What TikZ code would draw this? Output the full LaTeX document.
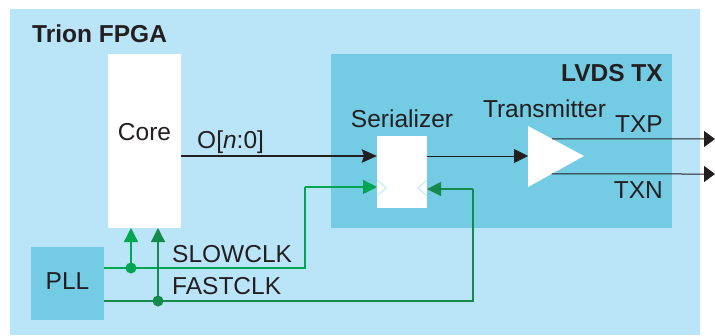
\documentclass[tikz,border=0pt]{standalone}
\usepackage{fontspec}
\setmainfont{Liberation Sans}
\usetikzlibrary{arrows.meta,positioning,calc}
\definecolor{fpgablue}{HTML}{BAE4F8}
\definecolor{lvdsblue}{HTML}{74CBE4}
\definecolor{slowgreen}{HTML}{00A651}
\definecolor{fastgreen}{HTML}{168A4A}
\definecolor{wireblk}{HTML}{231F20}

\begin{document}
\begin{tikzpicture}[x=1pt,y=-1pt,
  every node/.style={font=\fontsize{24.5}{28}\selectfont,inner sep=0pt,text=wireblk},
  blk/.style={anchor=north west,outer sep=0pt,minimum width=#1},
  lbl/.style={anchor=base},
  bus/.style={wireblk,line width=2.8pt,-{Stealth[length=15pt,width=13pt,inset=2pt]}},
  wire/.style={wireblk,line width=1pt,-{Triangle[length=14pt,width=14pt]}},
  outw/.style={wireblk,line width=1pt,-{Triangle[length=11pt,width=16pt]}},
  slow/.style={slowgreen,line width=1.3pt},
  fast/.style={fastgreen,line width=1.3pt},
  clktip/.style={-{Triangle[length=14pt,width=14pt]}}]

  \useasboundingbox (0,0) rectangle (715,335);

  % boxes
  \node[blk=690pt,minimum height=326pt,fill=fpgablue] (fpga) at (10,9) {};
  \node[blk=341pt,minimum height=174pt,fill=lvdsblue] (lvds) at (331,54) {};
  \node[blk=73pt,minimum height=174pt,fill=white] (core) at (108,54) {};
  \node[blk=50pt,minimum height=72pt,fill=white] (ser) at (377,136) {};
  \node[blk=73pt,minimum height=73pt,fill=lvdsblue] (pll) at (31,247) {};

  % transmitter buffer
  \coordinate (txtop) at (528,126);
  \coordinate (txbot) at (528,187);
  \coordinate (txtip) at (584,156);
  \fill[white] (txtop) -- (txtip) -- (txbot) -- cycle;

  % labels
  \node[anchor=base west,font=\fontsize{24.5}{28}\selectfont\bfseries] (fpgalbl) at (32,42) {Trion FPGA};
  \node[anchor=base east,font=\fontsize{24.5}{28}\selectfont\bfseries] (lvdslbl) at (663,81) {LVDS TX};
  \node[lbl] (corelbl) at (144.5,140) {Core};
  \node[anchor=base west] (buslbl) at (197,148) {O[\textit{n}:0]};
  \node[lbl] (serlbl) at (402,127) {Serializer};
  \node[lbl] (txlbl) at (544.5,117) {Transmitter};
  \node[anchor=base east] (txplbl) at (663,132) {TXP};
  \node[anchor=base east] (txnlbl) at (663,198) {TXN};
  \node[anchor=base west] (slowlbl) at (172,262) {SLOWCLK};
  \node[anchor=base west] (fastlbl) at (172,294) {FASTCLK};
  \node[lbl] (plllbl) at (67.5,289) {PLL};

  % rows and columns of the wiring
  \coordinate (rowbus) at (0,156);
  \coordinate (rowslowin) at (0,187);
  \coordinate (rowfastin) at (0,189);
  \coordinate (rowslow) at (0,268);
  \coordinate (rowfast) at (0,301);
  \coordinate (txpout) at (715,139);
  \coordinate (txnout) at (715,174);
  \coordinate (slowturn) at (305,268);
  \coordinate (fastturn) at (473,301);
  \coordinate (slowdot) at (131,268);
  \coordinate (fastdot) at (158,301);

  % data path
  \draw[bus] (core.east |- rowbus) -- (ser.west |- rowbus);
  \draw[wire] (ser.east |- rowbus) -- (txtop |- rowbus);
  \draw[outw] ($(txtop)!0.43!(txtip)$) -- (txpout);
  \draw[outw] ($(txbot)!0.42!(txtip)$) -- (txnout);

  % clock inputs of the serializer
  \foreach \s/\e in {west/1,east/-1}{
    \draw[fpgablue,line width=0.8pt] ($(ser.\s |- rowslowin)+(0,-7)$) -- ++(\e*9,8) -- ++(-\e*9,8);
  }

  % clocks
  \draw[slow] (pll.east |- rowslow) -- (slowturn) -- (slowturn |- rowslowin);
  \draw[slow,clktip] (slowturn |- rowslowin) -- (ser.west |- rowslowin);
  \draw[fast] (pll.east |- rowfast) -- (fastturn) -- (fastturn |- rowfastin);
  \draw[fast,clktip] (fastturn |- rowfastin) -- (ser.east |- rowfastin);
  \draw[slow,clktip] (slowdot) -- (slowdot |- core.south);
  \draw[fast,clktip] (fastdot) -- (fastdot |- core.south);
  \fill[slowgreen] (slowdot) circle (5.5pt);
  \fill[fastgreen] (fastdot) circle (5.5pt);
\end{tikzpicture}
\end{document}
